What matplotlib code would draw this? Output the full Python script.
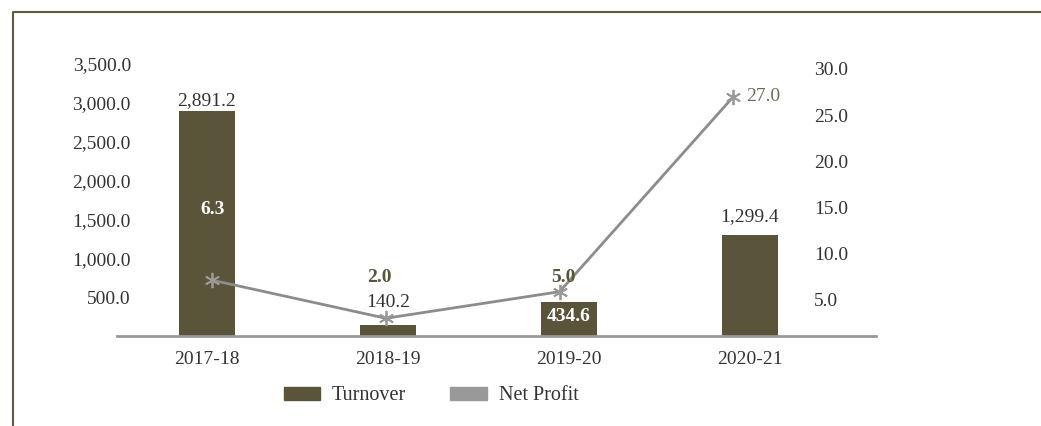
import matplotlib
matplotlib.use("Agg")
import matplotlib.pyplot as plt
from matplotlib.lines import Line2D
from matplotlib.patches import Patch
import numpy as np

plt.rcParams["font.family"] = ["Liberation Serif", "DejaVu Serif"]

years = ["2017-18", "2018-19", "2019-20", "2020-21"]
turnover = [2891.2, 140.2, 434.6, 1299.4]
net_profit = [6.3, 2.0, 5.0, 27.0]

bar_color = "#5a543b"
line_color = "#8c8c8c"
text_color = "#333333"
fs = 14

W, H = 1041, 426
fig = plt.figure(figsize=(W / 100, H / 100), dpi=100)

# plot area in pixels: x 117..876, y 64..336
rect = [117 / W, (H - 336) / H, (876 - 117) / W, (336 - 64) / H]
ax = fig.add_axes(rect)
# line layer (slightly different horizontal placement, as in the source chart)
axl = fig.add_axes(rect, facecolor="none")
# right-hand tick labels
axr = fig.add_axes(rect, facecolor="none")

x = np.arange(len(years))
ax.bar(x, turnover, width=0.31, color=bar_color, zorder=2)
axl.plot(x, net_profit, color=line_color, lw=2, zorder=3)
axl.plot(x, net_profit, ls="none", marker=(6, 2, 0), ms=11, mec="#999999",
         mew=1.3, zorder=4)

ax.set_xlim(-0.497, 3.696)
ax.set_ylim(0, 3500)
axl.set_xlim(-0.548, 3.822)
axl.set_ylim(0, 30.7)
axr.set_ylim(1.1, 30.54)

ax.set_xticks(x)
ax.set_xticklabels(years)
ax.set_yticks(np.arange(500, 3501, 500))
ax.set_yticklabels([f"{v:,.1f}" for v in np.arange(500, 3501, 500)])
axr.yaxis.tick_right()
axr.set_yticks(np.arange(5, 31, 5))
axr.set_yticklabels([f"{v:.1f}" for v in np.arange(5, 31, 5)])
axr.set_xticks([])
axl.set_xticks([])
axl.set_yticks([])

ax.tick_params(axis="x", length=0, pad=11, labelsize=fs, labelcolor=text_color)
ax.tick_params(axis="y", length=0, pad=-10, labelsize=fs, labelcolor=text_color)
axr.tick_params(axis="y", length=0, pad=-44.6, labelsize=fs, labelcolor=text_color)

for a in (ax, axl, axr):
    for s in ("top", "left", "right", "bottom"):
        a.spines[s].set_visible(False)
ax.spines["bottom"].set_visible(True)
ax.spines["bottom"].set_color("#999999")
ax.spines["bottom"].set_linewidth(2)

# turnover labels
turn_offsets = [(0, 8), (0, 16.5), (0, -10), (0, 13)]
turn_styles = [
    dict(color=text_color),
    dict(color=text_color),
    dict(color="white", fontweight="bold"),
    dict(color=text_color),
]
for i, v in enumerate(turnover):
    ax.annotate(f"{v:,.1f}", (x[i], v), xytext=turn_offsets[i],
                textcoords="offset points", ha="center", va="center",
                fontsize=fs, zorder=5, **turn_styles[i])

# net profit labels
np_offsets = [(0, 51), (-5, 29.5), (3, 10), (9, 0)]
np_ha = ["center", "center", "center", "left"]
np_styles = [
    dict(color="white", fontweight="bold"),
    dict(color=bar_color, fontweight="bold"),
    dict(color=bar_color, fontweight="bold"),
    dict(color="#6e6a58"),
]
for i, v in enumerate(net_profit):
    axl.annotate(f"{v:.1f}", (x[i], v), xytext=np_offsets[i],
                 textcoords="offset points", ha=np_ha[i], va="center",
                 fontsize=fs, zorder=5, **np_styles[i])

handles = [Patch(color=bar_color, label="Turnover"),
           Patch(color="#999999", label="Net Profit")]
fig.legend(handles=handles, loc="center", bbox_to_anchor=(431 / W, 1 - 396 / H),
           ncol=2, frameon=False, fontsize=fs + 0.5, handlelength=1.8,
           handleheight=0.65, handletextpad=0.6, columnspacing=2.2,
           labelcolor=text_color)

# outer frame (left and top edges)
fig.add_artist(Line2D([13 / W, 13 / W, 1], [0, 1 - 12 / H, 1 - 12 / H],
                      transform=fig.transFigure, color="#5f5b40", lw=1.5))

fig.savefig("out.png", dpi=100)
